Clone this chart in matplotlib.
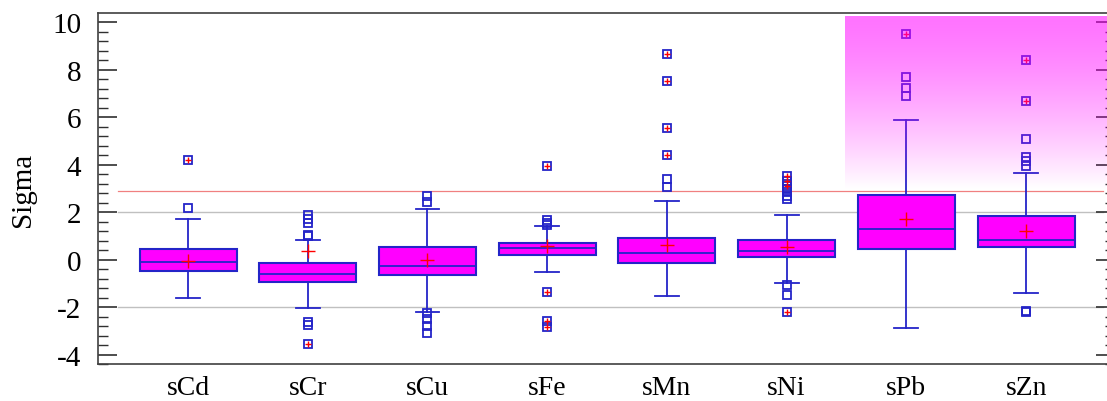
import numpy as np
import matplotlib
matplotlib.use("Agg")
import matplotlib.pyplot as plt
from matplotlib.ticker import MultipleLocator

plt.rcParams['font.family'] = ['Liberation Serif', 'DejaVu Serif']
plt.rcParams['axes.unicode_minus'] = False

# data
labels = ['sCd', 'sCr', 'sCu', 'sFe', 'sMn', 'sNi', 'sPb', 'sZn']
q1 = [-0.50, -0.93, -0.63, 0.21, -0.15, 0.10, 0.45, 0.52]
med = [-0.08, -0.60, -0.25, 0.48, 0.27, 0.38, 1.29, 0.84]
q3 = [0.45, -0.14, 0.52, 0.69, 0.93, 0.81, 2.72, 1.83]
whislo = [-1.63, -2.05, -2.19, -0.51, -1.52, -0.98, -2.89, -1.40]
whishi = [1.71, 0.81, 2.13, 1.40, 2.49, 1.88, 5.90, 3.64]
means = [-0.04, 0.38, 0.00, 0.59, 0.62, 0.52, 1.71, 1.22]
near_out = [
    [2.18],
    [1.90, 1.72, 1.55, 1.05, 1.00, -2.65, -2.75],
    [2.70, 2.42, -2.25, -2.50, -2.80, -3.10],
    [1.65, 1.55, 1.45],
    [3.40, 3.05],
    [2.56, 2.70, 2.84, 2.98, -1.07, -1.49],
    [6.91, 7.22, 7.71],
    [3.96, 4.14, 4.31, 5.08, -2.15, -2.22],
]
far_out = [
    [4.21],
    [-3.55],
    [],
    [3.93, -1.35, -2.57, -2.85],
    [4.42, 5.55, 7.51, 8.67],
    [3.12, 3.33, 3.54, -2.19],
    [9.51],
    [6.67, 8.43],
]

blue = '#2424c8'

fig = plt.figure(figsize=(11.07, 4.02), dpi=100)
ax = fig.add_axes([0.0885, 0.092, 0.9185, 0.873])

stats = []
for i in range(len(labels)):
    stats.append(dict(label=labels[i], q1=q1[i], med=med[i], q3=q3[i],
                      whislo=whislo[i], whishi=whishi[i], mean=means[i],
                      fliers=near_out[i] + far_out[i]))

pos = np.arange(1, len(labels) + 1)
ax.bxp(stats, positions=pos, widths=0.81, patch_artist=True, showmeans=True,
       boxprops=dict(facecolor='#ff00ff', edgecolor=blue, linewidth=1.5),
       medianprops=dict(color=blue, linewidth=1.3),
       whiskerprops=dict(color=blue, linewidth=1.3),
       capprops=dict(color=blue, linewidth=1.3),
       capwidths=0.2,
       meanprops=dict(marker='+', markeredgecolor='red', markersize=10,
                      markeredgewidth=1.0),
       flierprops=dict(marker='s', markerfacecolor='none', markeredgecolor=blue,
                       markersize=6, markeredgewidth=1.3))

# red plus inside the far outliers
for p, vals in zip(pos, far_out):
    if vals:
        ax.plot([p] * len(vals), vals, linestyle='none', marker='+',
                color='red', markersize=5, markeredgewidth=1.0, zorder=4)

# reference lines
ax.axhline(2.88, xmin=0.02, xmax=0.988, color='#f08080', linewidth=0.9, zorder=1)
ax.axhline(2, xmin=0.02, xmax=0.988, color='#c0c0c0', linewidth=1.0, zorder=1)
ax.axhline(-2, xmin=0.02, xmax=0.988, color='#c0c0c0', linewidth=1.0, zorder=1)

# shaded gradient zone
t = np.linspace(0, 1, 256)
grad = np.zeros((256, 2, 4))
grad[..., 0] = 1.0
grad[..., 2] = 1.0
grad[..., 3] = (0.55 * (1 - t ** 1.4))[:, None]
ax.imshow(grad, extent=[6.49, 8.74, 2.95, 10.27], aspect='auto',
          origin='upper', zorder=5, interpolation='bilinear')

ax.set_xlim(0.248, 8.74)
ax.set_ylim(-4.40, 10.39)
ax.yaxis.set_major_locator(MultipleLocator(2))
ax.yaxis.set_minor_locator(MultipleLocator(0.4))
ax.tick_params(axis='y', which='major', direction='in', length=14, width=1.2,
               right=True, labelsize=21, color='#303030', pad=12)
ax.tick_params(axis='y', which='minor', direction='in', length=7, width=1.0,
               right=True, color='#303030')
ax.tick_params(axis='x', length=0, labelsize=20, pad=8)
ax.set_xticks(pos)
ax.set_xticklabels(labels)
ax.set_ylabel('Sigma', fontsize=21, labelpad=12)
for s in ax.spines.values():
    s.set_color('#404040')
    s.set_linewidth(1.2)

fig.savefig('out.png', dpi=100)
